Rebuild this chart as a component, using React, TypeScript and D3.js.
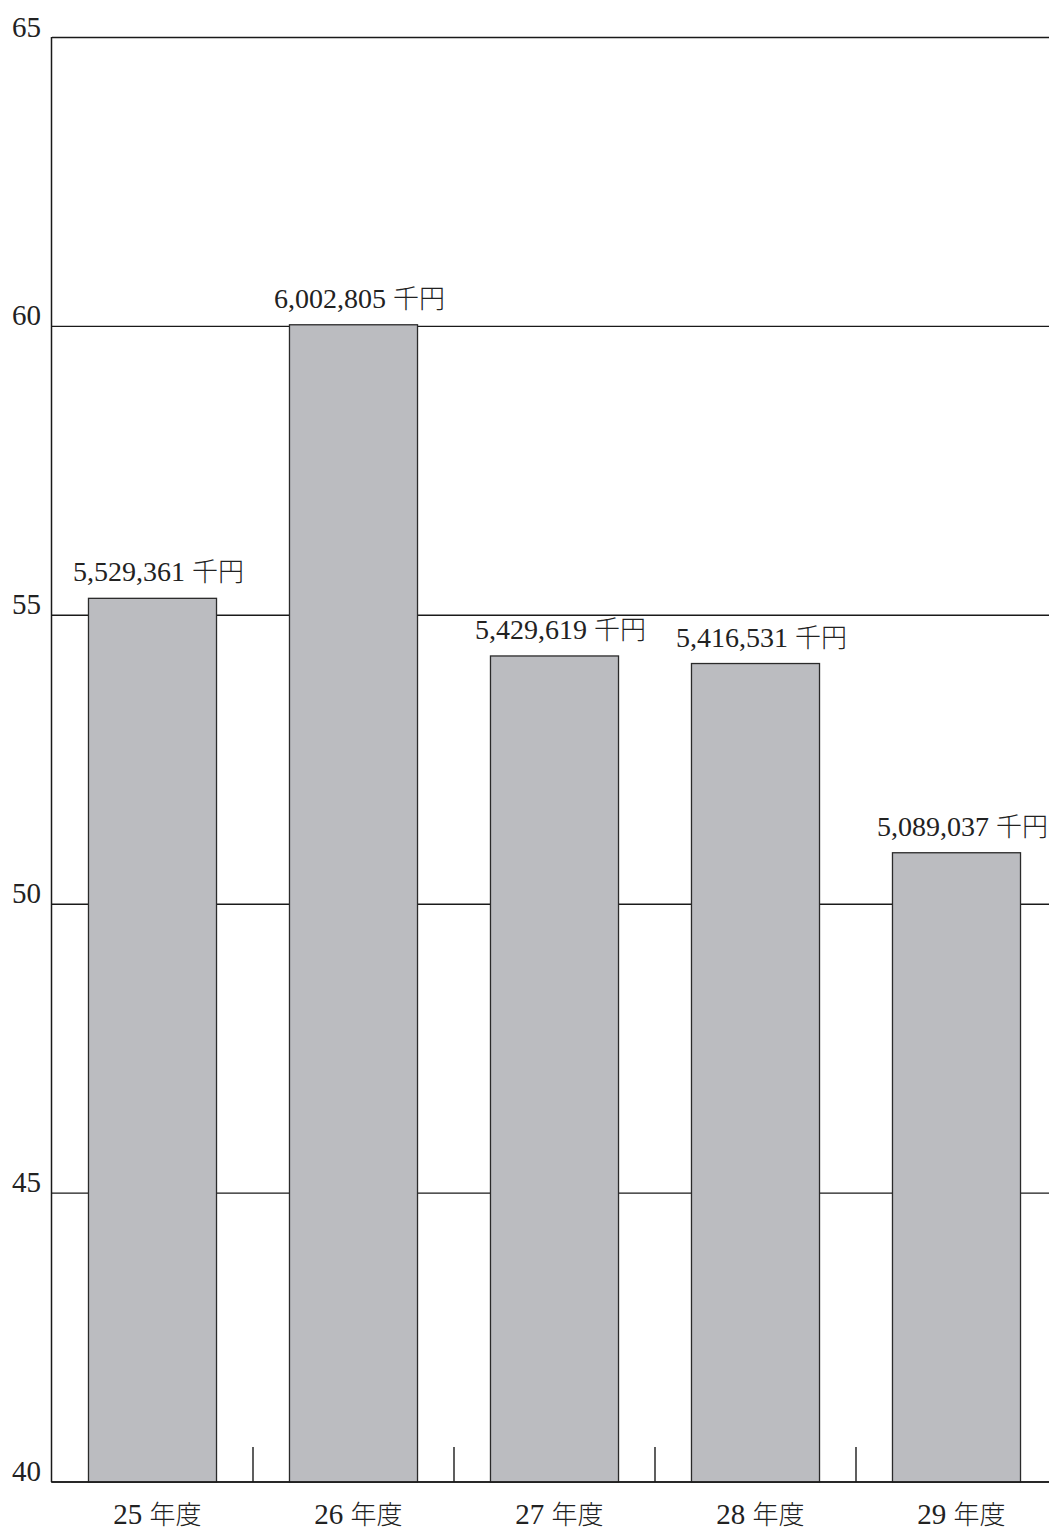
import React from "react";
import * as d3 from "d3";

const categories = ["25 年度", "26 年度", "27 年度", "28 年度", "29 年度"];
const values = [5529361, 6002805, 5429619, 5416531, 5089037]; // 千円
const yTicks = [40, 45, 50, 55, 60, 65];
const unitLabel = "千円";

const W = 1049;
const H = 1533;
const serif = "Liberation Serif, DejaVu Serif, serif";
const cjk = "Noto Sans CJK JP, sans-serif";

export default function App() {
  const x = d3
    .scaleBand<string>()
    .domain(categories)
    .range([52, 1057])
    .paddingInner(0.363)
    .paddingOuter(0.1815);
  const y = d3.scaleLinear().domain([40, 65]).range([1482, 37.5]);
  const step = x.step();
  const x0 = 52;
  const fmt = d3.format(",");

  return (
    <svg
      width={W}
      height={H}
      style={{ position: "absolute", left: 0, top: 0, background: "#fff" }}
    >
      {yTicks.map((t) => (
        <line
          key={"g" + t}
          x1={x0}
          x2={W}
          y1={y(t)}
          y2={y(t)}
          stroke="#1a1a1a"
          strokeWidth={1.4}
        />
      ))}
      {yTicks.map((t) => (
        <text
          key={"t" + t}
          x={41}
          y={y(t) - 1}
          textAnchor="end"
          style={{ fontFamily: serif, fontSize: "29px" }}
          fill="#222"
        >
          {t}
        </text>
      ))}
      {categories.slice(1).map((c, i) => {
        const xx = x0 + step * (i + 1);
        return (
          <line
            key={"s" + c}
            x1={xx}
            x2={xx}
            y1={1447}
            y2={y(40)}
            stroke="#1a1a1a"
            strokeWidth={1.4}
          />
        );
      })}
      {categories.map((c, i) => {
        const v = values[i] / 100000;
        const bx = x(c)!;
        const [num, suffix] = c.split(" ");
        return (
          <g key={"b" + c}>
            <rect
              x={bx}
              y={y(v)}
              width={x.bandwidth()}
              height={y(40) - y(v)}
              fill="#bbbcc0"
              stroke="#2a2a2a"
              strokeWidth={1.3}
            />
            <text
              x={bx + x.bandwidth() / 2 + 6}
              y={y(v) - 17}
              textAnchor="middle"
              style={{ fontFamily: serif, fontSize: "28px" }}
              fill="#222"
            >
              {fmt(values[i])}{" "}
              <tspan style={{ fontFamily: cjk, fontWeight: 300, fontSize: "26px" }}>
                {unitLabel}
              </tspan>
            </text>
            <text
              x={bx + x.bandwidth() / 2 + 5}
              y={1524}
              textAnchor="middle"
              style={{ fontFamily: serif, fontSize: "29px" }}
              fill="#222"
            >
              {num}{" "}
              <tspan style={{ fontFamily: cjk, fontWeight: 300, fontSize: "26px" }}>
                {suffix}
              </tspan>
            </text>
          </g>
        );
      })}
      <line x1={51.5} x2={51.5} y1={37} y2={y(40)} stroke="#1a1a1a" strokeWidth={1.5} />
      <line x1={51} x2={W} y1={y(40)} y2={y(40)} stroke="#1a1a1a" strokeWidth={1.5} />
    </svg>
  );
}
